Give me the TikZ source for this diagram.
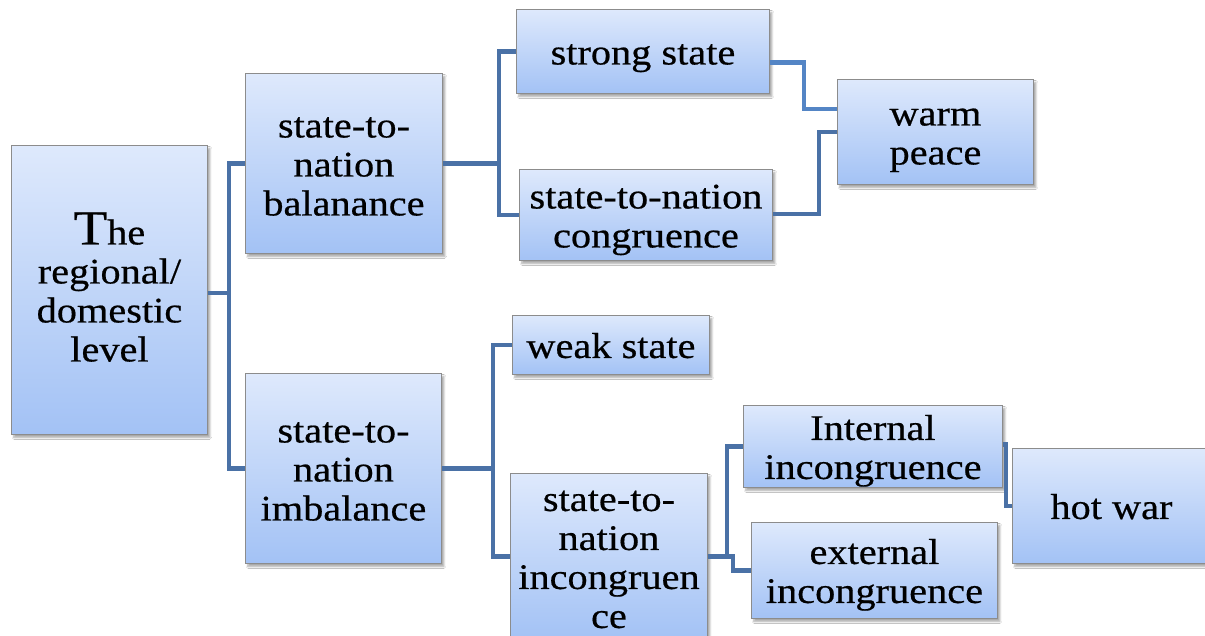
\documentclass[tikz,border=0pt]{standalone}
\usepackage{fontspec}
\setmainfont{Liberation Serif}[FakeStretch=1.12, FakeBold=0.5]
\usetikzlibrary{shadows.blur}
\definecolor{boxtop}{RGB}{222,233,252}
\definecolor{boxbot}{RGB}{163,194,245}
\definecolor{boxline}{RGB}{140,140,140}
\definecolor{linkblue}{RGB}{74,113,166}
\definecolor{linklight}{RGB}{84,133,197}
% fixed strut heights so every box centres its lines the same way
\newcommand{\hi}{\rule{0pt}{34pt}}
\newcommand{\lo}{\rule[-8pt]{0pt}{0pt}}
\tikzset{
  box/.style={draw=boxline, line width=0.9pt, top color=boxtop, bottom color=boxbot,
    anchor=north west, inner sep=0pt, align=center,
    font=\fontsize{36}{39}\selectfont,
    blur shadow={shadow xshift=2.5pt, shadow yshift=-3pt, shadow blur steps=6, shadow opacity=35}},
  link/.style={draw=linkblue, line width=4.5pt, line join=miter, line cap=butt},
  linklt/.style={link, draw=linklight}
}
\begin{document}
\begin{tikzpicture}[x=1pt, y=-1pt]
  \clip (0,0) rectangle (1205,636);
  \fill[white] (0,0) rectangle (1205,636);

  % level 0
  \node[box, minimum width=196pt, minimum height=289pt] (lvl) at (11,145)
    {\hi{\fontsize{49}{39}\selectfont T}he\\regional/\\domestic\\level\lo};

  % level 1
  \node[box, minimum width=197pt, minimum height=180pt] (bal) at (245,73)
    {\hi state-to-\\nation\\balanance\lo};
  \node[box, minimum width=196pt, minimum height=190pt] (imb) at (245,373)
    {\hi state-to-\\nation\\imbalance\lo};

  % level 2
  \node[box, minimum width=253pt, minimum height=84pt] (strong) at (516,9)
    {\hi strong state\lo};
  \node[box, minimum width=253pt, minimum height=91pt] (cong) at (519,169)
    {\hi state-to-nation\\congruence\lo};
  \node[box, minimum width=197pt, minimum height=59pt] (weak) at (512,315)
    {\hi weak state\lo};
  \node[box, minimum width=197pt, minimum height=166pt] (incong) at (510,473)
    {\hi state-to-\\nation\\incongruen\\ce\lo};

  % level 3
  \node[box, minimum width=196pt, minimum height=105pt] (peace) at (837,79)
    {\hi warm\\peace\lo};
  \node[box, minimum width=259pt, minimum height=82pt] (internal) at (743,405)
    {\hi Internal\\incongruence\lo};
  \node[box, minimum width=246pt, minimum height=96pt] (external) at (751,522)
    {\hi external\\incongruence\lo};

  % level 4
  \node[box, minimum width=198pt, minimum height=115pt] (war) at (1012,448)
    {\hi hot war\lo};

  % connectors
  \draw[link] ([yshift=-3pt]lvl.east) -- ++(21,0) coordinate (j0) |- (bal.west);
  \draw[link] (j0) |- (imb.west);

  \draw[link] (bal.east) -- ++(56,0) coordinate (j1) |- (strong.west);
  \draw[link] (j1) |- (cong.west);

  \draw[linklt] ([yshift=-11pt]strong.east) -- ++(34,0) |- ([yshift=23pt]peace.west);
  \draw[link] ([yshift=1pt]cong.east) -- ++(46,0) |- (peace.west);

  \draw[link] (imb.east) -- ++(51,0) coordinate (j2) |- (weak.west);
  \draw[link] (j2) |- (incong.west);

  \draw[link] (incong.east) -- ++(19,0) |- (internal.west);
  \draw[link] (incong.east) -- ++(25,0) |- (external.west);

  \draw[link] ([yshift=2pt]internal.east) -- ++(3,0) |- (war.west);
\end{tikzpicture}
\end{document}
